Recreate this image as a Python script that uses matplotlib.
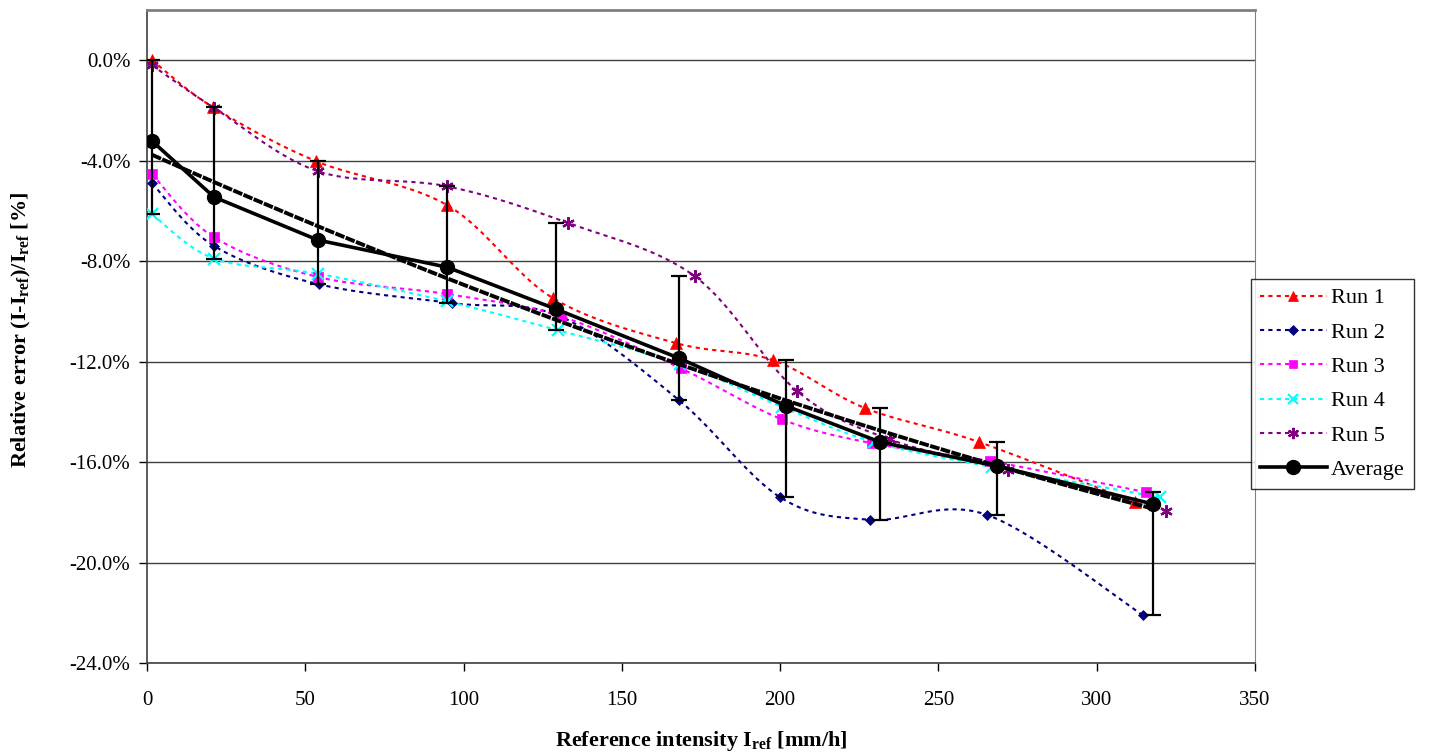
import numpy as np
import matplotlib
matplotlib.use("Agg")
import matplotlib.pyplot as plt
from matplotlib.ticker import FuncFormatter, MultipleLocator

plt.rcParams['font.family'] = ['Liberation Serif', 'DejaVu Serif']
plt.rcParams['mathtext.default'] = 'regular'

run1_x = [1.6, 20.8, 53.4, 94.8, 128.2, 167.0, 197.7, 226.8, 262.8, 312.0]
run1_y = [0.0, -1.87, -4.02, -5.77, -9.47, -11.26, -11.94, -13.85, -15.2, -17.6]
run2_x = [1.6, 21.2, 54.3, 96.3, 130.5, 168.0, 200.0, 228.4, 265.3, 314.6]
run2_y = [-4.9, -7.4, -8.92, -9.67, -10.2, -13.53, -17.4, -18.3, -18.1, -22.1]
run3_x = [1.6, 21.2, 54.0, 94.8, 130.8, 168.7, 200.6, 229.0, 266.3, 315.5]
run3_y = [-4.54, -7.05, -8.63, -9.31, -10.2, -12.27, -14.3, -15.25, -15.96, -17.2]
run4_x = [1.6, 21.2, 54.0, 94.8, 129.8, 168.5, 200.5, 229.5, 267.0, 320.0]
run4_y = [-6.13, -7.9, -8.5, -9.6, -10.75, -12.1, -13.8, -15.2, -16.2, -17.4]
run5_x = [1.6, 21.2, 54.0, 94.8, 133.0, 173.0, 205.3, 234.7, 272.0, 322.0]
run5_y = [-0.2, -1.9, -4.42, -5.02, -6.48, -8.6, -13.17, -15.1, -16.3, -17.95]
avg_x = [1.6, 21.2, 54.0, 94.8, 129.2, 168.0, 202.0, 231.5, 268.5, 317.8]
avg_y = [-3.22, -5.45, -7.16, -8.24, -9.91, -11.86, -13.77, -15.2, -16.16, -17.67]

labels = ['Run 1', 'Run 2', 'Run 3', 'Run 4', 'Run 5']
colors = ['#FF0000', '#000080', '#FF00FF', '#00FFFF', '#800080']
markers = ['^', 'D', 's', 'x', (6, 2, 0)]
msizes = [8, 5.5, 7, 8, 9]


def smooth(x, y, n=24):
    p = np.column_stack([x, y]).astype(float)
    out = [p[0]]
    t = np.linspace(0, 1, n)[1:, None]
    for i in range(len(p) - 1):
        p0 = p[max(i - 1, 0)]
        p1 = p[i]
        p2 = p[i + 1]
        p3 = p[min(i + 2, len(p) - 1)]
        c1 = p1 + (p2 - p0) / 6
        c2 = p2 - (p3 - p1) / 6
        seg = ((1 - t) ** 3) * p1 + 3 * ((1 - t) ** 2) * t * c1 + 3 * (1 - t) * t ** 2 * c2 + t ** 3 * p2
        out.extend(seg)
    out = np.array(out)
    return out[:, 0], out[:, 1]


fig = plt.figure(figsize=(14.32, 7.56), dpi=100)
ax = fig.add_axes([147 / 1432, 1 - 663 / 756, 1108 / 1432, 653 / 756])

runs_x = [run1_x, run2_x, run3_x, run4_x, run5_x]
runs_y = [run1_y, run2_y, run3_y, run4_y, run5_y]
handles = []
for xs, ys, c, m, ms, lab in zip(runs_x, runs_y, colors, markers, msizes, labels):
    sx, sy = smooth(xs, ys)
    ax.plot(sx, sy, color=c, lw=1.5, ls=(0, (2, 2)), zorder=2)
    mew = 1.6 if m in ('x',) or isinstance(m, tuple) else 0.5
    ax.plot(xs, ys, ls='none', marker=m, ms=ms, color=c, mec=c, mew=mew, zorder=3)
    h, = ax.plot([], [], color=c, lw=1.5, ls=(0, (2, 2)), marker=m, ms=ms * 0.9, mec=c, mew=mew, label=lab)
    handles.append(h)

ry = np.array(runs_y)
lo = np.array(avg_y) - ry.min(axis=0)
hi = ry.max(axis=0) - np.array(avg_y)
ax.errorbar(avg_x, avg_y, yerr=[lo, hi], fmt='none', ecolor='black', elinewidth=1.6,
            capsize=6, capthick=1.6, zorder=4)

# polynomial (order 2) trendline of the average
coef = np.polyfit(avg_x, avg_y, 2)
tx = np.linspace(avg_x[0], avg_x[-1], 200)
ax.plot(tx, np.polyval(coef, tx), color='black', lw=2.8, ls=(0, (2.5, 0.35)), zorder=4)

h, = ax.plot(avg_x, avg_y, color='black', lw=2.6, marker='o', ms=10, zorder=5, label='Average')
handles.append(h)

ax.set_xlim(0, 350)
ax.set_ylim(-24, 2)
ax.xaxis.set_major_locator(MultipleLocator(50))
ax.set_yticks(np.arange(-24, 0.1, 4))
ax.yaxis.set_major_formatter(FuncFormatter(lambda v, p: f"{v:.1f}%"))
ax.grid(axis='y', color='#404040', lw=1.0, zorder=0)
ax.set_axisbelow(True)
ax.tick_params(axis='both', direction='out', length=6, width=1, labelsize=15, colors='black')
ax.tick_params(axis='x', pad=14)
ax.tick_params(axis='y', pad=6)
ax.spines['top'].set_color('#808080')
ax.spines['top'].set_linewidth(2.0)
ax.spines['right'].set_color('#808080')
for s in ['left', 'bottom']:
    ax.spines[s].set_color('#404040')
    ax.spines[s].set_linewidth(1.2)

ax.set_xlabel('Reference intensity I$_{ref}$ [mm/h]', fontsize=16, fontweight='bold')
ax.set_ylabel('Relative error (I-I$_{ref}$)/I$_{ref}$ [%]', fontsize=16, fontweight='bold')
ax.xaxis.set_label_coords((701 - 147) / 1108, (663 - 729) / 653)
ax.yaxis.set_label_coords((33 - 147) / 1108, (663 - 330) / 653)

leg = fig.legend(handles=handles, loc='upper left', bbox_to_anchor=(1251 / 1432, 1 - 279 / 756),
                 bbox_transform=fig.transFigure, fontsize=16, frameon=True, fancybox=False,
                 edgecolor='black', handlelength=3.0, borderpad=0.4, labelspacing=0.62,
                 handletextpad=0.2, borderaxespad=0)
leg.get_frame().set_linewidth(1.0)

fig.savefig('out.png', dpi=100)
